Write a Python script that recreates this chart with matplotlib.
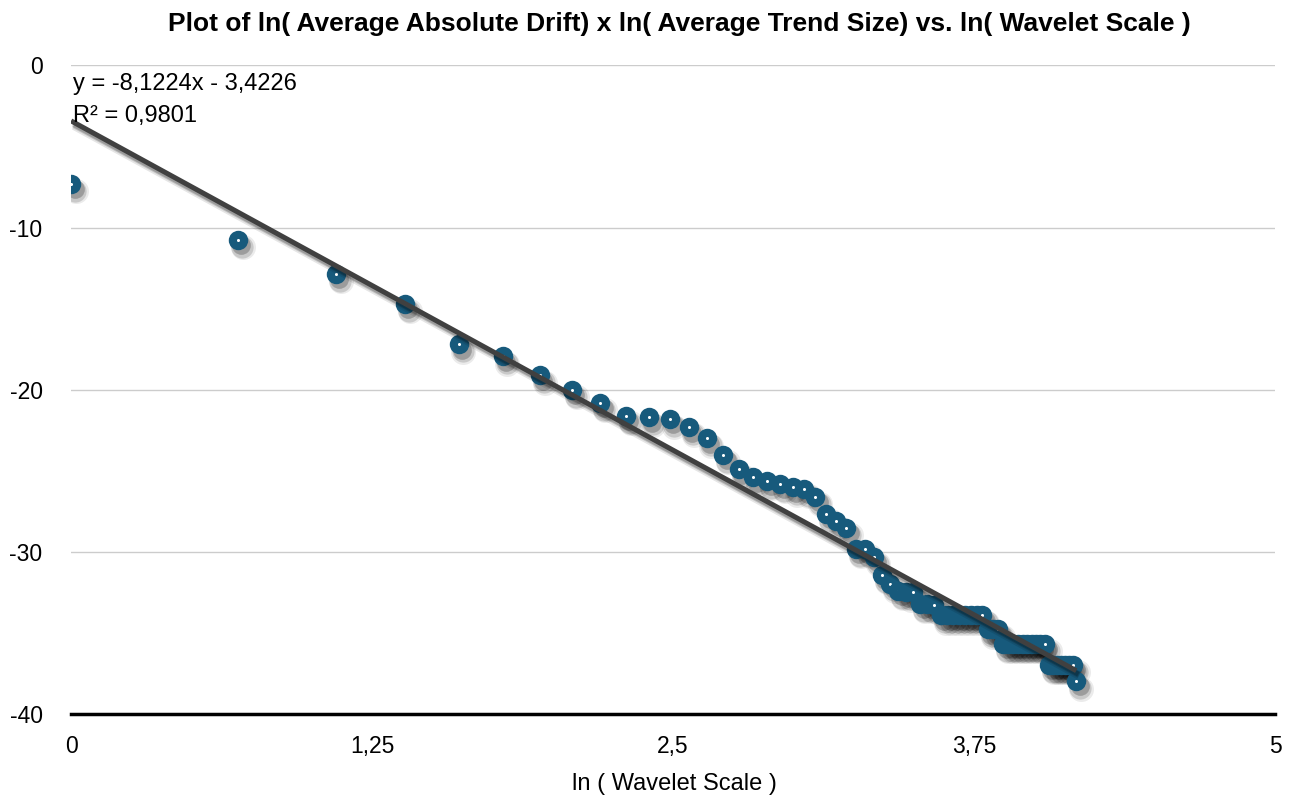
import numpy as np
import matplotlib
matplotlib.use("Agg")
import matplotlib.pyplot as plt
import matplotlib.transforms as mtransforms

plt.rcParams['font.family'] = ['Liberation Sans', 'DejaVu Sans']

# ln(wavelet scale) for scales 1..65
x_vals = [0.000, 0.693, 1.099, 1.386, 1.609, 1.792, 1.946, 2.079, 2.197, 2.303,
          2.398, 2.485, 2.565, 2.639, 2.708, 2.773, 2.833, 2.890, 2.944, 2.996,
          3.045, 3.091, 3.135, 3.178, 3.219, 3.258, 3.296, 3.332, 3.367, 3.401,
          3.434, 3.466, 3.497, 3.526, 3.555, 3.584, 3.611, 3.638, 3.664, 3.689,
          3.714, 3.738, 3.761, 3.784, 3.807, 3.829, 3.850, 3.871, 3.892, 3.912,
          3.932, 3.951, 3.970, 3.989, 4.007, 4.025, 4.043, 4.060, 4.078, 4.094,
          4.111, 4.127, 4.143, 4.159, 4.174]
y_vals = [-7.29, -10.75, -12.85, -14.70, -17.20, -17.95, -19.10, -20.00, -20.80, -21.60,
          -21.70, -21.80, -22.30, -23.00, -24.00, -24.90, -25.40, -25.60, -25.80, -26.00,
          -26.10, -26.60, -27.65, -28.10, -28.50, -29.80, -29.80, -30.30, -31.40, -31.95,
          -32.40, -32.50, -32.50, -33.20, -33.20, -33.30, -33.90, -33.90, -33.90, -33.90,
          -33.90, -33.90, -33.90, -33.90, -34.75, -34.75, -34.75, -35.65, -35.65, -35.65,
          -35.65, -35.65, -35.65, -35.65, -35.65, -35.65, -35.65, -36.95, -36.95, -36.95,
          -36.95, -36.95, -36.95, -36.95, -37.95]

slope = -8.1224
intercept = -3.4226

x_ticks = [0, 1.25, 2.5, 3.75, 5]
x_tick_labels = ['0', '1,25', '2,5', '3,75', '5']
y_ticks = [0, -10, -20, -30, -40]
y_tick_labels = ['0', '-10', '-20', '-30', '-40']

fig = plt.figure(figsize=(12.92, 7.97), dpi=100)
ax = fig.add_axes([0.055, 0.104, 0.932, 0.814])
ax.set_xlim(0, 5)
ax.set_ylim(-40, 0)

ax.set_yticks(y_ticks)
ax.set_yticklabels(y_tick_labels)
ax.set_xticks(x_ticks)
ax.set_xticklabels(x_tick_labels)
ax.tick_params(axis='both', length=0, labelsize=16.5)
ax.tick_params(axis='y', pad=20.5)
ax.tick_params(axis='x', pad=15)
for s in ['top', 'right', 'left']:
    ax.spines[s].set_visible(False)
ax.spines['bottom'].set_linewidth(2.5)
ax.spines['bottom'].set_color('black')
ax.spines['bottom'].set_zorder(6)
ax.grid(axis='y', color='#cccccc', linewidth=1)
ax.set_axisbelow(True)

marker_color = '#175a7c'
# soft shadows (several offset layers to imitate blur)
for (dx, dy, ms, a) in [(3.5, -5.5, 18, 0.08), (3, -5, 16, 0.14), (2.5, -4, 13.5, 0.22)]:
    tr = mtransforms.offset_copy(ax.transData, fig=fig, x=dx, y=dy, units='points')
    ax.plot(x_vals, y_vals, linestyle='none', marker='o', markersize=ms,
            markerfacecolor='black', markeredgecolor='none', alpha=a,
            transform=tr, zorder=2)

# points drawn one by one so later markers cover earlier centre dots
for i, (xv, yv) in enumerate(zip(x_vals, y_vals)):
    ax.plot([xv], [yv], linestyle='none', marker='o', markersize=14,
            markerfacecolor=marker_color, markeredgecolor='none', zorder=3 + i * 0.01)
    ax.plot([xv], [yv], linestyle='none', marker='o', markersize=2.2,
            markerfacecolor='white', markeredgecolor='none', zorder=3.005 + i * 0.01)

xx = np.array([min(x_vals), max(x_vals)])
for (dx, dy, lw, a) in [(2, -3.5, 6, 0.10), (2, -3, 4.5, 0.15), (1.5, -2.5, 3.5, 0.2)]:
    tr = mtransforms.offset_copy(ax.transData, fig=fig, x=dx, y=dy, units='points')
    ax.plot(xx, slope * xx + intercept, color='black', linewidth=lw, alpha=a,
            transform=tr, zorder=4, solid_capstyle='butt')
ax.plot(xx, slope * xx + intercept, color='#404040', linewidth=3.6, zorder=5,
        solid_capstyle='butt')

ax.text(0.002, 0.972, 'y = -8,1224x - 3,4226', transform=ax.transAxes,
        fontsize=17, va='center', ha='left', zorder=7)
ax.text(0.002, 0.922, 'R² = 0,9801', transform=ax.transAxes,
        fontsize=17, va='center', ha='left', zorder=7)

fig.text(0.526, 0.970, 'Plot of ln( Average Absolute Drift) x ln( Average Trend Size) vs. ln( Wavelet Scale )',
         ha='center', va='center', fontsize=19, fontweight='bold')
fig.text(0.522, 0.016, 'ln ( Wavelet Scale )', ha='center', va='center', fontsize=17)

fig.savefig('out.png', dpi=100)
